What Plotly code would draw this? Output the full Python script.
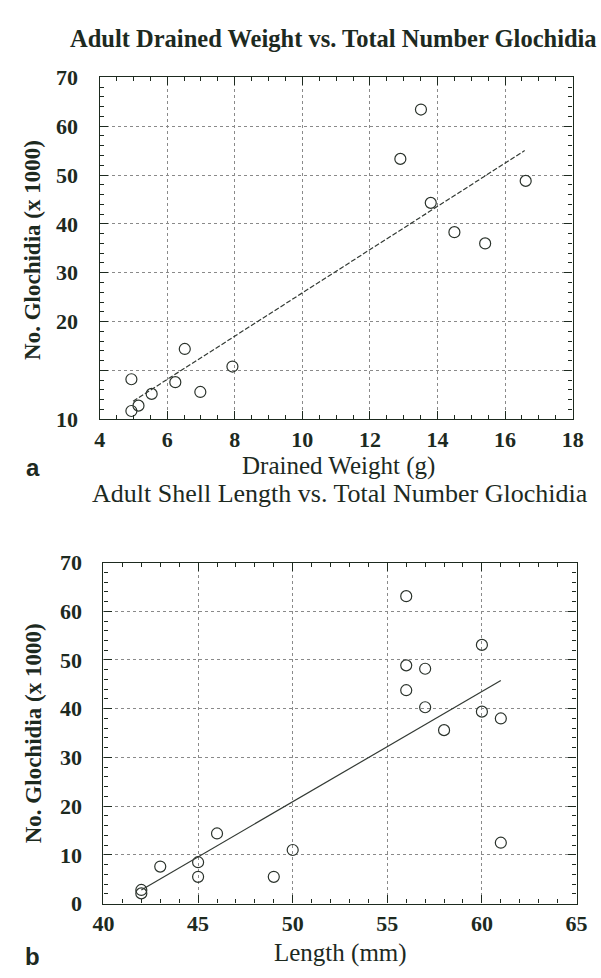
import plotly.graph_objects as go

# ---- data ----
# (a) drained weight (g) vs glochidia (x1000)
weight_g = [4.94, 4.94, 5.15, 5.54, 6.24, 6.52, 6.98, 7.93, 12.90, 13.51, 13.80, 14.50, 15.41, 16.61]
glochidia_a = [8.2, 1.7, 2.8, 5.2, 7.6, 14.4, 5.6, 10.8, 53.3, 63.4, 44.3, 38.3, 36.0, 48.8]
fit_a_x = [4.99, 16.58]
fit_a_y = [3.7, 55.0]

# (b) shell length (mm) vs glochidia (x1000)
length_mm = [42, 42, 43, 45, 45, 46, 49, 50, 56, 56, 56, 57, 57, 58, 60, 60, 61, 61]
glochidia_b = [2.8, 2.1, 7.6, 8.5, 5.5, 14.4, 5.5, 11.0, 63.1, 48.9, 43.8, 48.2, 40.3, 35.6, 53.1, 39.4, 38.0, 12.5]
fit_b_x = [42.0, 61.0]
fit_b_y = [2.8, 45.8]

# tick labels
y_tickvals = [0, 10, 20, 30, 40, 50, 60, 70]
y_ticktext_a = ["10", "", "20", "30", "40", "50", "60", "70"]
y_ticktext_b = ["0", "10", "20", "30", "40", "50", "60", "70"]
x_tickvals_a = [4, 6, 8, 10, 12, 14, 16, 18]
x_tickvals_b = [40, 45, 50, 55, 60, 65]

INK = "#1d2a1f"
SERIF = "Liberation Serif"

fig = go.Figure()

mk = dict(symbol="circle-open", size=11, color="#2b332c", line=dict(width=1.2))

fig.add_trace(go.Scatter(x=weight_g, y=glochidia_a, mode="markers", marker=mk,
                         xaxis="x", yaxis="y", showlegend=False))
fig.add_trace(go.Scatter(x=fit_a_x, y=fit_a_y, mode="lines",
                         line=dict(color="#333a34", width=1.2, dash="5px,2px"),
                         xaxis="x", yaxis="y", showlegend=False))
fig.add_trace(go.Scatter(x=length_mm, y=glochidia_b, mode="markers", marker=mk,
                         xaxis="x2", yaxis="y2", showlegend=False))
fig.add_trace(go.Scatter(x=fit_b_x, y=fit_b_y, mode="lines",
                         line=dict(color="#333a34", width=1.2),
                         xaxis="x2", yaxis="y2", showlegend=False))

tickfont = dict(family=SERIF, size=22, color=INK, weight="bold")


def axis_common(minor_dtick):
    return dict(
        showline=True, linecolor=INK, linewidth=1.4, mirror="allticks",
        ticks="inside", ticklen=8, tickwidth=1.2, tickcolor=INK,
        showgrid=True, gridcolor="#8a8a8a", griddash="dot", gridwidth=1,
        zeroline=False, tickfont=tickfont,
        minor=dict(dtick=minor_dtick, ticks="inside", ticklen=4, tickwidth=1,
                   tickcolor=INK, showgrid=False),
    )


W, H = 601, 978
fig.update_layout(
    width=W, height=H,
    margin=dict(l=0, r=0, t=0, b=0),
    paper_bgcolor="white", plot_bgcolor="white",
    xaxis=dict(axis_common(0.5), domain=[92 / W, 583 / W], range=[4, 18],
               tickvals=x_tickvals_a, anchor="y", ticklabelstandoff=0),
    yaxis=dict(axis_common(2), domain=[1 - 418 / H, 1 - 67 / H], range=[0, 70],
               tickvals=y_tickvals, ticktext=y_ticktext_a, anchor="x",
               ticklabelstandoff=16),
    xaxis2=dict(axis_common(1), domain=[96 / W, 587 / W], range=[40, 65],
                tickvals=x_tickvals_b, anchor="y2", ticklabelstandoff=0),
    yaxis2=dict(axis_common(2), domain=[1 - 915 / H, 1 - 565 / H], range=[0, 70],
                tickvals=y_tickvals, ticktext=y_ticktext_b, anchor="x2",
                ticklabelstandoff=16),
)

def ann(text, x, y, size, bold=False, angle=0, family=SERIF):
    t = f"<b>{text}</b>" if bold else text
    fig.add_annotation(text=t, x=x / W, y=1 - y / H, xref="paper", yref="paper",
                       showarrow=False, xanchor="center", yanchor="middle",
                       textangle=angle, font=dict(family=family, size=size, color=INK))

ann("Adult Drained Weight vs. Total Number Glochidia", 335, 27, 24.5, bold=True)
ann("Adult Shell Length vs. Total Number Glochidia", 342, 494, 26)
ann("No. Glochidia (x 1000)", 23, 244, 23, bold=True, angle=-90)
ann("No. Glochidia (x 1000)", 23, 740, 23, bold=True, angle=-90)
ann("Drained Weight (g)", 340, 466, 25)
ann("Length (mm)", 342, 966, 25)
ann("a", 23, 467, 24, bold=True, family="Liberation Sans")
ann("b", 22, 969, 24, bold=True, family="Liberation Sans")

fig.write_html("out.html")
